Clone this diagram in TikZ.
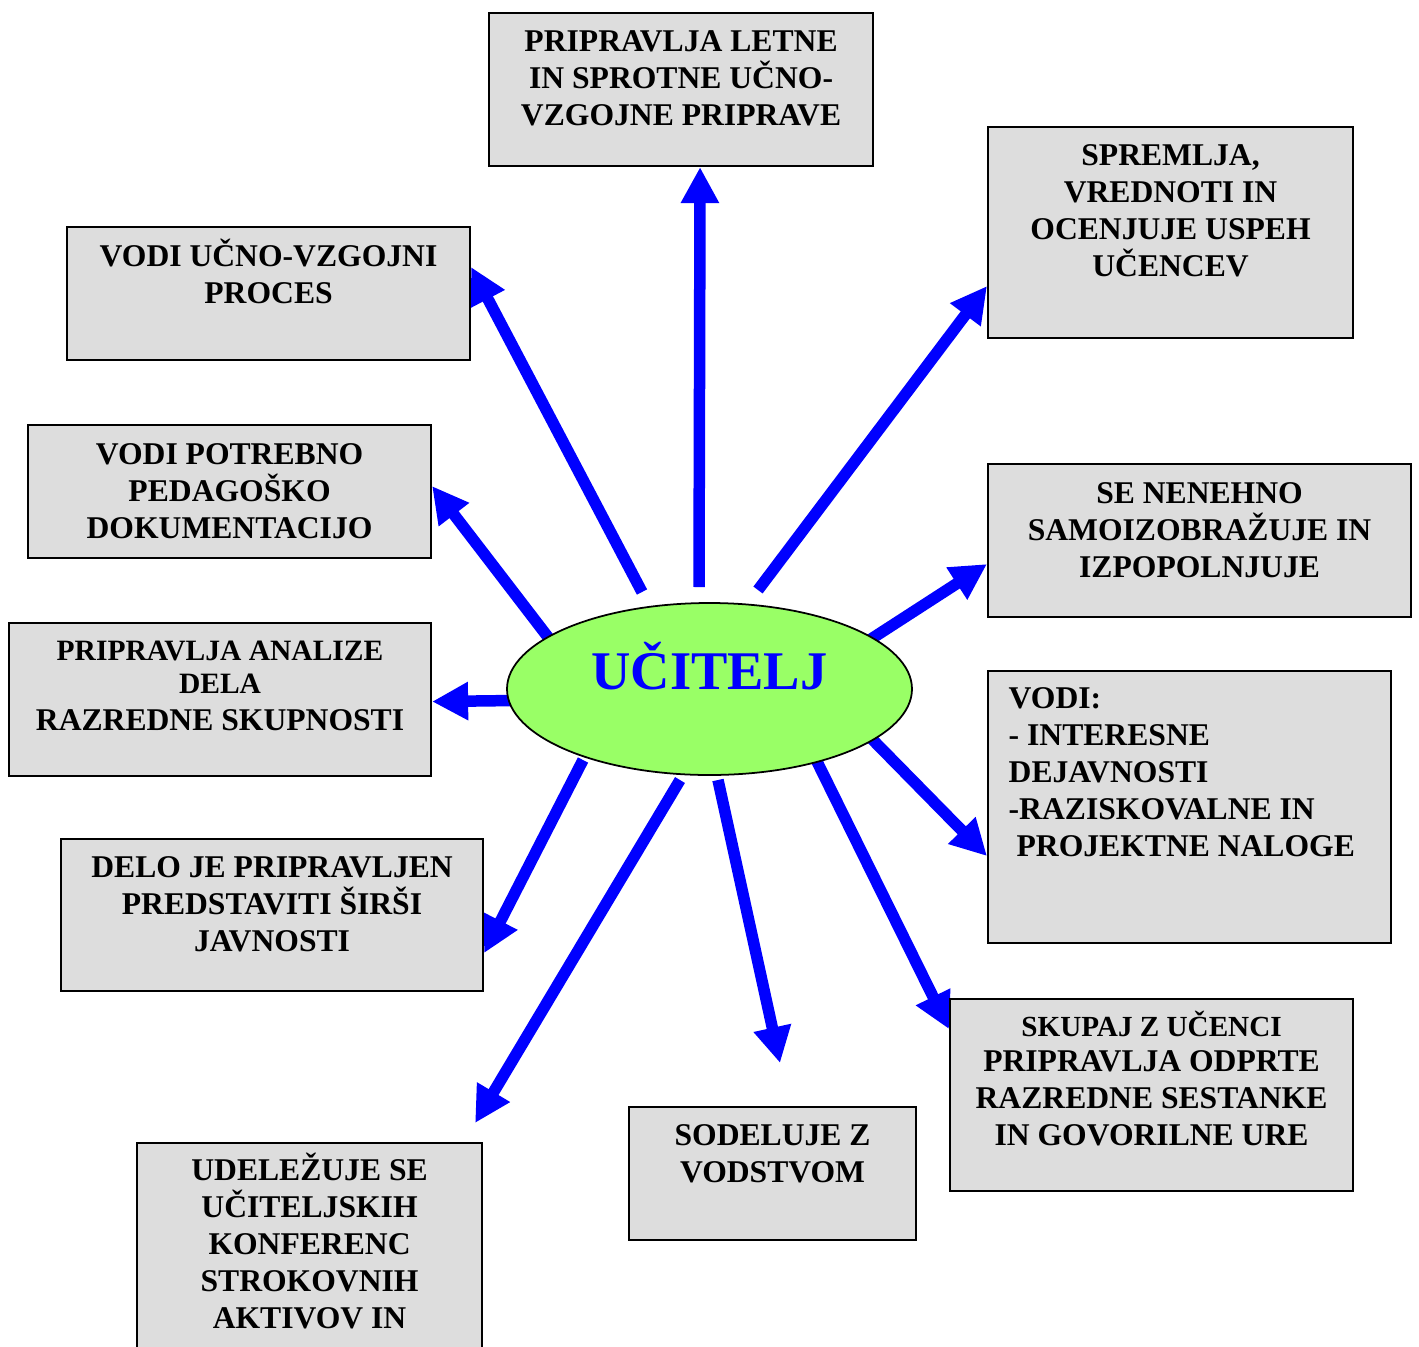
\documentclass[tikz,border=0pt]{standalone}
\usepackage{fontspec}
\setmainfont{Liberation Serif}
\usetikzlibrary{shapes.geometric,arrows.meta,backgrounds}
\definecolor{boxgray}{HTML}{DDDDDD}
\definecolor{ovalgreen}{HTML}{99FF66}

\begin{document}
\begin{tikzpicture}
    \tikzstyle{box} = [rectangle, draw, fill=boxgray, line width=0.6pt, inner sep=0pt, anchor=north west]
    \tikzstyle{txt} = [align=center, anchor=base, inner sep=0pt, font=\bfseries\fontsize{9}{10.5}\selectfont]
    \tikzstyle{arrow} = [draw=blue, line width=1.15mm, -{Triangle[length=3.6mm, width=3.6mm]}]

    \useasboundingbox (0,0) rectangle (14.19,-13.47);

    \node (ucitelj) [ellipse, draw, fill=ovalgreen, line width=0.5pt, minimum width=4.05cm, minimum height=1.72cm, inner sep=0pt, text=blue, font=\bfseries\fontsize{15.5}{18}\selectfont, text height=0.3cm, text depth=0.3cm] at (7.095,-6.89) {UČITELJ};

    % boxes round the teacher
    \node (priprave) [box, minimum width=3.84cm, minimum height=1.53cm] at (4.88,-0.12) {};
    \node (spremlja) [box, minimum width=3.65cm, minimum height=2.11cm] at (9.87,-1.26) {};
    \node (proces) [box, minimum width=4.03cm, minimum height=1.33cm] at (0.66,-2.26) {};
    \node (dokumentacija) [box, minimum width=4.03cm, minimum height=1.33cm] at (0.27,-4.24) {};
    \node (analize) [box, minimum width=4.22cm, minimum height=1.53cm] at (0.08,-6.22) {};
    \node (izpopolnjuje) [box, minimum width=4.23cm, minimum height=1.53cm] at (9.87,-4.63) {};
    \node (dejavnosti) [box, minimum width=4.03cm, minimum height=2.72cm] at (9.87,-6.70) {};
    \node (javnost) [box, minimum width=4.22cm, minimum height=1.52cm] at (0.60,-8.38) {};
    \node (sestanki) [box, minimum width=4.03cm, minimum height=1.92cm] at (9.49,-9.98) {};
    \node (vodstvo) [box, minimum width=2.87cm, minimum height=1.33cm] at (6.28,-11.06) {};
    \node (konference) [box, minimum width=3.45cm, minimum height=2.08cm] at (1.36,-11.42) {};

    % texts (placed by the baseline of their last line)
    \node (priprave-t) [txt] at ([yshift=-1.13cm]priprave.north) {PRIPRAVLJA LETNE\\IN SPROTNE UČNO-\\VZGOJNE PRIPRAVE};
    \node (spremlja-t) [txt] at ([yshift=-1.50cm]spremlja.north) {SPREMLJA,\\VREDNOTI IN\\OCENJUJE USPEH\\UČENCEV};
    \node (proces-t) [txt] at ([yshift=-0.77cm]proces.north) {VODI UČNO-VZGOJNI\\PROCES};
    \node (dokumentacija-t) [txt] at ([yshift=-1.14cm]dokumentacija.north) {VODI POTREBNO\\PEDAGOŠKO\\DOKUMENTACIJO};
    \node (analize-t) [txt] at ([yshift=-1.08cm]analize.north) {{\fontsize{8.4}{10}\selectfont PRIPRAVLJA ANALIZE}\\[-1.2pt]{\fontsize{8.4}{10}\selectfont DELA}\\RAZREDNE SKUPNOSTI};
    \node (izpopolnjuje-t) [txt] at ([yshift=-1.14cm]izpopolnjuje.north) {SE NENEHNO\\SAMOIZOBRAŽUJE IN\\IZPOPOLNJUJE};
    \node (dejavnosti-t) [txt, align=left, anchor=base west] at ([shift={(0.21,-1.86)}]dejavnosti.north west) {VODI:\\- INTERESNE\\DEJAVNOSTI\\-RAZISKOVALNE IN\\~PROJEKTNE NALOGE};
    \node (javnost-t) [txt] at ([yshift=-1.13cm]javnost.north) {DELO JE PRIPRAVLJEN\\PREDSTAVITI ŠIRŠI\\JAVNOSTI};
    \node (sestanki-t) [txt] at ([yshift=-1.47cm]sestanki.north) {{\fontsize{8.3}{10}\selectfont SKUPAJ Z UČENCI}\\[-0.5pt]PRIPRAVLJA ODPRTE\\RAZREDNE SESTANKE\\IN GOVORILNE URE};
    \node (vodstvo-t) [txt] at ([yshift=-0.76cm]vodstvo.north) {SODELUJE Z\\VODSTVOM};
    \node (konference-t) [txt] at ([yshift=-1.86cm]konference.north) {UDELEŽUJE SE\\UČITELJSKIH\\KONFERENC\\STROKOVNIH\\AKTIVOV IN};

    % arrows under the oval
    \begin{scope}[on background layer]
    \draw [arrow] ([shift={(-0.105,1.02)}]ucitelj.center) -- ([xshift=0.19cm]priprave.south);
    \draw [arrow] ([shift={(-0.675,0.97)}]ucitelj.center) -- ([yshift=0.265cm]proces.east);
    \draw [arrow] ([shift={(0.485,0.99)}]ucitelj.center) -- ([yshift=-0.535cm]spremlja.west);
    \draw [arrow] ([shift={(-1.585,0.48)}]ucitelj.center) -- ([yshift=0.055cm]dokumentacija.east);
    \draw [arrow] ([shift={(-1.955,-0.115)}]ucitelj.center) -- ([yshift=-0.02cm]analize.east);
    \draw [arrow] ([shift={(1.585,0.48)}]ucitelj.center) -- ([yshift=-0.235cm]izpopolnjuje.west);
    \draw [arrow] ([shift={(1.60,-0.475)}]ucitelj.center) -- ([yshift=-0.49cm]dejavnosti.west);
    \draw [arrow] ([shift={(1.055,-0.685)}]ucitelj.center) -- ([yshift=0.66cm]sestanki.west);
    \draw [arrow] ([shift={(0.085,-0.91)}]ucitelj.center) -- ([shift={(0.075,0.43)}]vodstvo.north);
    \draw [arrow] ([shift={(-1.265,-0.71)}]ucitelj.center) -- ([yshift=-0.38cm]javnost.east);
    \draw [arrow] ([shift={(-0.295,-0.91)}]ucitelj.center) -- ([shift={(-0.08,0.19)}]konference.north east);
    \end{scope}
\end{tikzpicture}
\end{document}
